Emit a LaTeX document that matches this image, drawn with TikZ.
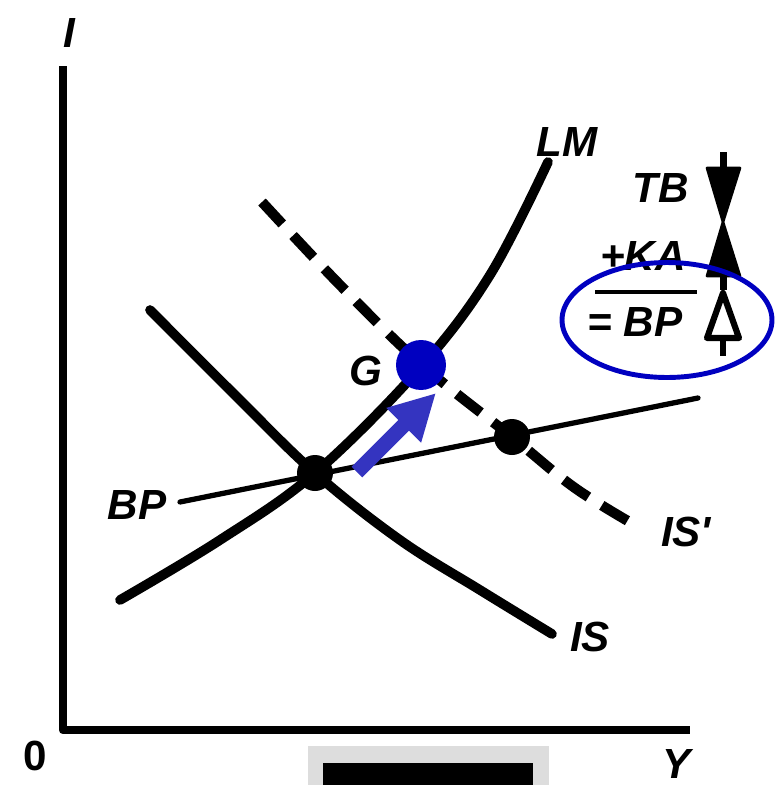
\documentclass[tikz,border=0pt]{standalone}
\usepackage{fontspec}
\setmainfont{Liberation Sans}
\usetikzlibrary{arrows.meta}
\definecolor{gblue}{RGB}{0,0,192}
\definecolor{ablue}{RGB}{52,52,192}
\definecolor{bargray}{RGB}{221,221,221}

\begin{document}
\begin{tikzpicture}[x=0.02cm,y=-0.02cm,every node/.style={font=\fontsize{24}{24}\selectfont\bfseries\itshape,inner sep=0pt},
  curve/.style={line width=5.5pt,line cap=round},
  edot/.style={circle,fill=black,minimum size=0.72cm},
  gdot/.style={circle,fill=gblue,minimum size=1cm},
  sign/.style={line width=1.5pt,line join=round}]
\useasboundingbox (0,0) rectangle (779,785);
% axes
\coordinate (top) at (63,66);
\coordinate (o) at (63,730);
\coordinate (right) at (690,730);
\draw[line width=4.8pt,line join=round] (top) -- (o) -- (right);
\node (lI) at (69,33) {I};
\node[font=\fontsize{24}{24}\selectfont\bfseries] (l0) at (35,756) {0};
\node (lY) at (677,764) {Y};
\fill[bargray] (308,746) rectangle (549,785);
\fill[black] (323,763) rectangle (533,785);
% curves
\draw[curve] plot[smooth,tension=0.6] coordinates {(120,600) (220,540) (315,473) (420,368) (490,275) (548,162)};
\draw[curve] plot[smooth,tension=0.6] coordinates {(150,310) (235,395) (315,473) (400,540) (480,590) (552,634)};
\draw[line width=5.8pt,dash pattern=on 17pt off 9pt] plot[smooth,tension=0.6] coordinates {(262,202) (340,285) (422,365) (512,437) (575,488) (640,528)};
\node (lLM) at (567,142) {LM};
\node (lIS) at (590,637) {IS};
\node (lIS2) at (686,532) {IS\textquotesingle};
% BP line
\coordinate (bp0) at (180,502);
\coordinate (bp1) at (698,398);
\draw[line width=3pt,line cap=round] (bp0) -- (bp1);
\node (lBP) at (137,505) {BP};
\node[edot] (E0) at (315,473) {};
\node[edot] (E1) at (512,437) {};
% new point G
\node[gdot] (G) at (421,365) {};
\node (lG) at (366,371) {G};
\coordinate (a0) at (357,472);
\coordinate (a1) at (436,393);
\draw[ablue,line width=8.5pt,-{Triangle[length=26pt,width=26pt]}] (a0) -- (a1);
% balance of payments
\node (lTB) at (661,188) {TB};
\node (lKA) at (643,256) {+KA};
\coordinate (s0) at (595,292);
\coordinate (s1) at (697,292);
\draw[line width=1.8pt] (s0) -- (s1);
\node (lBP2) at (635,322) {= BP};
\fill (719.5,152) rectangle (726.5,172);
\filldraw[sign] (707,168) -- (740,168) -- (723,222) -- cycle;
\filldraw[sign] (723,222) -- (740,276) -- (707,276) -- cycle;
\fill (719.5,276) rectangle (726.5,290);
\draw[line width=3.5pt,line join=round,fill=white] (723,293) -- (739,338) -- (707,338) -- cycle;
\fill (720,338) rectangle (726,356);
\draw[gblue,line width=2.8pt] (667,320) ellipse [x radius=2.1cm,y radius=1.15cm];
\end{tikzpicture}
\end{document}
